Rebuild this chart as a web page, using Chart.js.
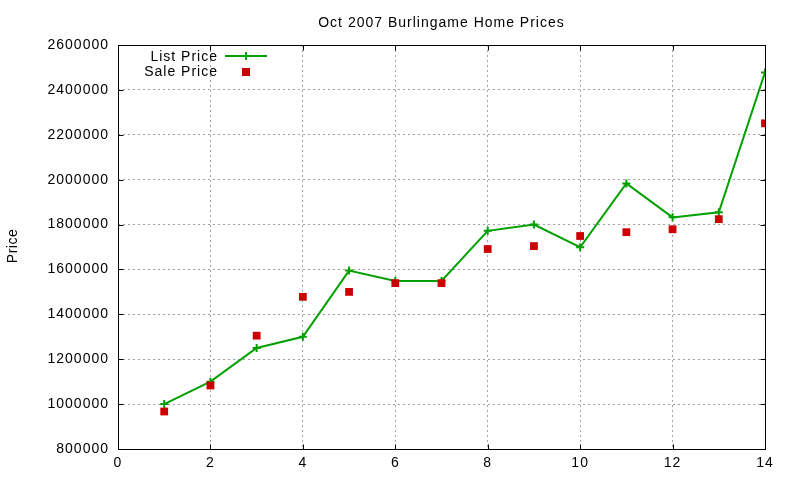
<!DOCTYPE html>
<html>
<head>
<meta charset="utf-8">
<title>Oct 2007 Burlingame Home Prices</title>
<script src="https://cdn.jsdelivr.net/npm/chart.js@4.4.0/dist/chart.umd.min.js"></script>
<style>
  html, body { margin: 0; padding: 0; background: #fff; }
  #wrap { width: 800px; height: 480px; }
</style>
</head>
<body>
<div id="wrap"><canvas id="chart" width="800" height="480"></canvas></div>
<script>
/* Oct 2007 Burlingame home prices, list vs sale, gnuplot-style frame. */
const TITLE = "Oct 2007 Burlingame Home Prices";
const Y_TITLE = "Price";
const SERIES_NAMES = ["List Price", "Sale Price"];

// values
const homeIndex = [1, 2, 3, 4, 5, 6, 7, 8, 9, 10, 11, 12, 13, 14];
const listPrice = [1000000, 1100000, 1250000, 1300000, 1595000, 1549000, 1549000,
  1772000, 1800000, 1699000, 1983000, 1832000, 1855000, 2478000];
const salePrice = [967000, 1083000, 1305000, 1478000, 1500000, 1539000, 1539000,
  1691000, 1704000, 1749000, 1766000, 1779000, 1824000, 2251000];

const X_MIN = 0, X_MAX = 14, X_STEP = 2;
const Y_MIN = 800000, Y_MAX = 2600000, Y_STEP = 200000;

const GREEN = "#00a000", RED = "#cc0000";
const FONT = "'Liberation Sans', Arial, sans-serif";

const toPoints = vals => homeIndex.map((x, i) => ({ x, y: vals[i] }));

// ---- frame, inward ticks, title, legend (drawn like gnuplot) ----
const framePlugin = {
  id: "frame",
  beforeLayout(chart) { chart.ctx.letterSpacing = "1px"; },
  beforeDraw(chart) { chart.ctx.letterSpacing = "1px"; },
  afterDraw(chart) {
    const { ctx, chartArea: ca, scales: { x, y } } = chart;
    const px = v => Math.round(v) + 0.5;
    const L = px(ca.left), R = px(ca.right), T = px(ca.top), B = px(ca.bottom);
    ctx.save();
    ctx.letterSpacing = "1px";
    ctx.strokeStyle = "#000";
    ctx.lineWidth = 1;
    ctx.setLineDash([]);
    ctx.strokeRect(L, T, R - L, B - T);

    ctx.beginPath();
    y.ticks.forEach(t => {
      const yy = px(y.getPixelForValue(t.value));
      ctx.moveTo(L, yy); ctx.lineTo(L + 5, yy);
      ctx.moveTo(R, yy); ctx.lineTo(R - 5, yy);
    });
    x.ticks.forEach(t => {
      const xx = px(x.getPixelForValue(t.value));
      ctx.moveTo(xx, B); ctx.lineTo(xx, B - 5);
      ctx.moveTo(xx, T); ctx.lineTo(xx, T + 5);
    });
    ctx.stroke();

    ctx.fillStyle = "#000";
    ctx.font = "14px " + FONT;
    ctx.textBaseline = "alphabetic";
    ctx.textAlign = "center";
    ctx.fillText(TITLE, (ca.left + ca.right) / 2, 26.5);

    ctx.save();
    ctx.letterSpacing = "0.5px";
    ctx.translate(17, 246);
    ctx.rotate(-Math.PI / 2);
    ctx.fillText(Y_TITLE, 0, 0);
    ctx.restore();

    // legend
    ctx.textAlign = "right";
    ctx.fillText(SERIES_NAMES[0], 218, 61);
    ctx.fillText(SERIES_NAMES[1], 218, 76);
    ctx.strokeStyle = GREEN;
    ctx.lineWidth = 2;
    ctx.beginPath();
    ctx.moveTo(225, 56); ctx.lineTo(267, 56);
    ctx.moveTo(246, 52); ctx.lineTo(246, 60);
    ctx.stroke();
    ctx.fillStyle = RED;
    ctx.fillRect(242, 68, 8, 8);
    ctx.restore();
  },
};

new Chart(document.getElementById("chart"), {
  type: "line",
  data: {
    datasets: [
      { label: SERIES_NAMES[0], data: toPoints(listPrice), order: 2,
        borderColor: GREEN, borderWidth: 2, tension: 0, fill: false,
        pointStyle: "cross", pointRadius: 4, pointBorderWidth: 2,
        pointBorderColor: GREEN, pointHoverRadius: 4 },
      { label: SERIES_NAMES[1], data: toPoints(salePrice), order: 1,
        showLine: false, pointStyle: "rect", pointRadius: 5.5,
        pointBackgroundColor: RED, pointBorderWidth: 0, pointHoverRadius: 5.5 },
    ],
  },
  options: {
    responsive: false, animation: false, devicePixelRatio: 1,
    layout: { padding: { left: 0, right: 35, top: 45, bottom: 0 } },
    plugins: { legend: { display: false }, title: { display: false },
      tooltip: { enabled: false } },
    scales: {
      x: {
        type: "linear", min: X_MIN, max: X_MAX,
        afterFit(s) { s.height = 31; },
        grid: { color: "#a0a0a0", lineWidth: 1, drawTicks: false },
        border: { display: false, dash: [2, 3] },
        ticks: { stepSize: X_STEP, padding: 6, color: "#000",
          font: { family: FONT, size: 14 }, maxRotation: 0,
          callback: v => String(v) },
      },
      y: {
        min: Y_MIN, max: Y_MAX,
        afterFit(s) { s.width = 118; },
        grid: { color: "#a0a0a0", lineWidth: 1, drawTicks: false },
        border: { display: false, dash: [2, 3] },
        ticks: { stepSize: Y_STEP, padding: 9, color: "#000",
          font: { family: FONT, size: 14 }, callback: v => String(v) },
      },
    },
  },
  plugins: [framePlugin],
});
</script>
</body>
</html>
